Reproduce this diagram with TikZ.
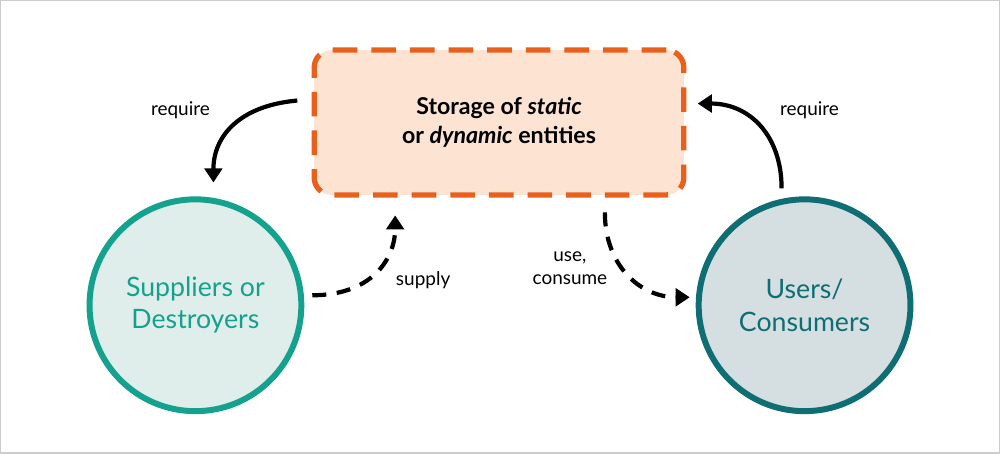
\documentclass[tikz,border=0pt]{standalone}
\usepackage{fontspec}
\setmainfont{Lato}
\usetikzlibrary{arrows.meta}
\definecolor{boxfill}{HTML}{FDE3D2}
\definecolor{boxline}{HTML}{E8601C}
\definecolor{lfill}{HTML}{DFEEEA}
\definecolor{lline}{HTML}{14A18D}
\definecolor{rfill}{HTML}{D5DEE0}
\definecolor{rline}{HTML}{0E6E73}
\tikzset{
 arr/.style={line width=1.2pt,-{Triangle[length=4pt,width=5pt]}},
 lbl/.style={font=\fontsize{5.4}{6.6}\selectfont,align=center},
 circ/.style={circle,minimum size=2.12cm,line width=1.7pt,align=center,font=\fontsize{7.6}{9.2}\selectfont}
}
\begin{document}
\begin{tikzpicture}[x=0.01cm,y=-0.01cm]
\draw[gray!40,fill=white] (0,0) rectangle (1000,453);
\node[draw=boxline,fill=boxfill,line width=1.5pt,dash pattern=on 7pt off 4pt,rounded corners=5pt,minimum width=3.7cm,minimum height=1.45cm,align=center,font=\bfseries\fontsize{6.6}{8.4}\selectfont] (box) at (499,122) {Storage of \textit{static}\\or \textit{dynamic} entities};
\node[circ,draw=lline,fill=lfill,text=lline] (sup) at (195,305) {Suppliers or\\Destroyers};
\node[circ,draw=rline,fill=rfill,text=rline] (usr) at (805,305) {Users/\\Consumers};
\coordinate (a1) at (297,100); \coordinate (a2) at (213,182);
\draw[arr] (a1) .. controls (240,105) and (213,135) .. (a2);
\coordinate (b1) at (782,188); \coordinate (b2) at (698,103);
\draw[arr] (b1) .. controls (782,135) and (750,103) .. (b2);
\coordinate (c1) at (312,295); \coordinate (c2) at (395,215);
\draw[arr,dash pattern=on 4pt off 3pt] (c1) .. controls (370,295) and (395,260) .. (c2);
\coordinate (d1) at (605,212); \coordinate (d2) at (690,297);
\draw[arr,dash pattern=on 4pt off 3pt] (d1) .. controls (605,265) and (640,297) .. (d2);
\node[lbl] (l1) at (180,110) {require};
\node[lbl] (l2) at (810,110) {require};
\node[lbl] (l3) at (423,280) {supply};
\node[lbl] (l4) at (570,268) {use,\\consume};
\end{tikzpicture}
\end{document}
